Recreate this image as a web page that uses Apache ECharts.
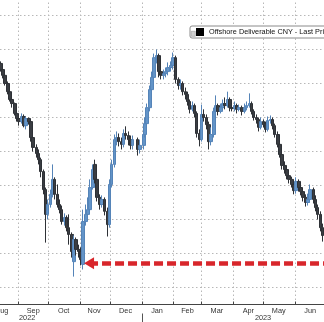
<!DOCTYPE html>
<html>
<head>
<meta charset="utf-8">
<script src="https://cdn.jsdelivr.net/npm/echarts@6/dist/echarts.min.js"></script>
<style>
html,body{margin:0;padding:0;background:#fff;}
#chart{width:324px;height:322px;}
</style>
</head>
<body>
<div id="chart"></div>
<script>
// ---- data (USD/CNH level, plotted on an inverted axis) ----
const seriesName = 'Offshore Deliverable CNY - Last Price';
const dates = [
'2022-08-15','2022-08-17','2022-08-19','2022-08-22','2022-08-24','2022-08-26','2022-08-29','2022-08-31','2022-09-02',
'2022-09-05','2022-09-07','2022-09-09','2022-09-12','2022-09-14','2022-09-16','2022-09-19','2022-09-21','2022-09-23',
'2022-09-26','2022-09-28','2022-09-30','2022-10-03','2022-10-05','2022-10-07','2022-10-10','2022-10-12','2022-10-14',
'2022-10-17','2022-10-19','2022-10-21','2022-10-24','2022-10-26','2022-10-28','2022-10-31','2022-11-02','2022-11-04',
'2022-11-07','2022-11-09','2022-11-11','2022-11-14','2022-11-16','2022-11-18','2022-11-21','2022-11-23','2022-11-25',
'2022-11-28','2022-11-30','2022-12-02','2022-12-05','2022-12-07','2022-12-09','2022-12-12','2022-12-14','2022-12-16',
'2022-12-19','2022-12-21','2022-12-23','2022-12-28','2022-12-30','2023-01-03','2023-01-04','2023-01-06',
'2023-01-09','2023-01-11','2023-01-13','2023-01-16','2023-01-18','2023-01-20','2023-01-23','2023-01-25','2023-01-27',
'2023-01-30','2023-02-01','2023-02-03','2023-02-06','2023-02-08','2023-02-10','2023-02-13','2023-02-15','2023-02-17',
'2023-02-20','2023-02-22','2023-02-24','2023-02-27','2023-03-01','2023-03-03','2023-03-06','2023-03-08','2023-03-10',
'2023-03-13','2023-03-15','2023-03-17','2023-03-20','2023-03-22','2023-03-24','2023-03-27','2023-03-29','2023-03-31',
'2023-04-03','2023-04-05','2023-04-07','2023-04-10','2023-04-12','2023-04-14','2023-04-17','2023-04-19','2023-04-21',
'2023-04-24','2023-04-26','2023-04-28','2023-05-01','2023-05-03','2023-05-05','2023-05-08','2023-05-10','2023-05-12',
'2023-05-15','2023-05-17','2023-05-19','2023-05-22','2023-05-24','2023-05-26','2023-05-29','2023-05-31','2023-06-02',
'2023-06-05','2023-06-07','2023-06-09','2023-06-12','2023-06-14','2023-06-16','2023-06-19','2023-06-21','2023-06-23',
'2023-06-26','2023-06-28'
];
const opens = [
6.741,6.759,6.776,6.800,6.824,6.847,6.859,6.888,6.903,
6.912,6.897,6.924,6.903,6.912,6.959,6.988,7.006,7.024,
7.059,7.112,7.185,7.156,7.126,7.082,7.126,7.156,7.171,
7.206,7.194,7.224,7.244,7.324,7.259,7.288,7.294,7.332,
7.206,7.185,7.171,7.106,7.038,7.082,7.135,7.156,7.141,
7.176,7.215,7.097,7.038,6.965,6.959,6.971,6.979,6.947,
6.953,6.965,6.982,6.965,6.994,6.982,6.950,6.918,
6.871,6.818,6.782,6.724,6.718,6.765,6.776,6.771,6.765,
6.753,6.747,6.724,6.788,6.806,6.800,6.824,6.832,6.853,
6.876,6.865,6.888,6.947,6.965,6.891,6.900,6.921,6.971,
6.950,6.882,6.865,6.882,6.871,6.859,6.865,6.847,6.871,
6.874,6.865,6.876,6.871,6.882,6.871,6.865,6.859,6.882,
6.900,6.906,6.929,6.912,6.921,6.935,6.909,6.906,6.924,
6.950,6.979,7.009,7.041,7.053,7.071,7.082,7.097,7.115,
7.088,7.106,7.118,7.135,7.150,7.141,7.112,7.141,7.165,
7.185,7.224
];
const closes = [
6.759,6.776,6.800,6.824,6.847,6.859,6.888,6.903,6.912,
6.897,6.924,6.903,6.912,6.959,6.988,7.006,7.024,7.059,
7.112,7.185,7.156,7.126,7.082,7.126,7.156,7.171,7.206,
7.194,7.224,7.244,7.294,7.259,7.288,7.294,7.318,7.206,
7.185,7.171,7.106,7.053,7.082,7.135,7.156,7.141,7.176,
7.215,7.097,7.038,6.965,6.959,6.971,6.979,6.947,6.953,
6.965,6.982,6.965,6.994,6.982,6.950,6.918,6.871,
6.818,6.782,6.724,6.718,6.765,6.776,6.771,6.765,6.753,
6.747,6.724,6.788,6.806,6.800,6.824,6.832,6.853,6.876,
6.865,6.888,6.947,6.965,6.891,6.900,6.921,6.971,6.950,
6.882,6.865,6.882,6.871,6.859,6.865,6.847,6.871,6.874,
6.865,6.876,6.871,6.882,6.871,6.865,6.859,6.882,6.900,
6.906,6.929,6.912,6.921,6.935,6.909,6.906,6.924,6.950,
6.979,7.009,7.041,7.053,7.071,7.082,7.097,7.115,7.088,
7.106,7.118,7.135,7.150,7.141,7.112,7.141,7.165,7.185,
7.224,7.247
];
const lows = [
6.735,6.753,6.771,6.794,6.818,6.835,6.856,6.882,6.894,
6.888,6.891,6.897,6.900,6.906,6.950,6.979,6.994,7.018,
7.053,7.106,7.141,7.112,7.038,7.076,7.097,7.141,7.159,
7.182,7.188,7.185,7.238,7.247,7.253,7.274,7.282,7.171,
7.156,7.135,7.082,7.038,7.024,7.076,7.126,7.129,7.135,
7.165,7.082,7.024,6.950,6.941,6.947,6.959,6.935,6.926,
6.941,6.953,6.953,6.959,6.965,6.929,6.900,6.859,
6.806,6.765,6.712,6.700,6.712,6.753,6.759,6.753,6.738,
6.735,6.709,6.718,6.782,6.788,6.794,6.812,6.824,6.847,
6.853,6.859,6.882,6.935,6.862,6.876,6.891,6.912,6.929,
6.871,6.835,6.859,6.859,6.847,6.841,6.824,6.841,6.859,
6.853,6.859,6.862,6.865,6.859,6.853,6.829,6.853,6.876,
6.891,6.900,6.900,6.906,6.912,6.897,6.894,6.900,6.918,
6.941,6.971,7.000,7.029,7.047,7.059,7.074,7.088,7.076,
7.082,7.094,7.112,7.126,7.124,7.097,7.106,7.129,7.156,
7.176,7.212
];
const highs = [
6.765,6.785,6.806,6.832,6.853,6.871,6.894,6.912,6.924,
6.918,6.929,6.935,6.921,6.971,7.000,7.018,7.038,7.076,
7.126,7.268,7.200,7.165,7.135,7.141,7.165,7.182,7.215,
7.218,7.235,7.274,7.312,7.368,7.306,7.312,7.335,7.347,
7.218,7.194,7.176,7.112,7.094,7.147,7.171,7.165,7.188,
7.250,7.224,7.106,7.047,6.982,6.985,6.994,6.988,6.965,
6.982,6.994,6.994,7.012,7.006,6.994,6.959,6.929,
6.882,6.829,6.794,6.741,6.782,6.788,6.788,6.782,6.776,
6.765,6.759,6.800,6.818,6.818,6.835,6.847,6.865,6.888,
6.882,6.900,6.959,6.985,6.971,6.912,6.935,6.994,6.982,
6.959,6.894,6.894,6.888,6.876,6.876,6.871,6.882,6.882,
6.882,6.888,6.882,6.894,6.888,6.879,6.871,6.891,6.909,
6.918,6.941,6.935,6.929,6.944,6.941,6.918,6.935,6.959,
6.988,7.018,7.053,7.065,7.082,7.094,7.106,7.126,7.124,
7.118,7.129,7.147,7.162,7.159,7.150,7.153,7.176,7.200,
7.235,7.265
];
// axis text
const monthNames = ['Jan','Feb','Mar','Apr','May','Jun','Jul','Aug','Sep','Oct','Nov','Dec'];
const monthStarts = ['2022-09-01','2022-10-01','2022-11-01','2022-12-01','2023-01-01','2023-02-01','2023-03-01','2023-04-01','2023-05-01','2023-06-01'];
const monthLabelDates = ['2022-08-16','2022-09-16','2022-10-16','2022-11-15','2022-12-16','2023-01-16','2023-02-15','2023-03-16','2023-04-16','2023-05-16','2023-06-16'];
const yearLabelDates = ['2022-09-10T00:00','2023-04-30T12:00'];
const yearBoundary = ['2023-01-01'];
// annotation: red dashed arrow at the autumn 2022 low
const arrowLevel = 7.329;
const arrowStart = '2022-11-10';

// ---- helpers ----
function ts(s){ return new Date(s.length > 10 ? s + ':00Z' : s + 'T00:00:00Z').getTime(); }
const xMin = Date.UTC(2022, 7, 14, 6);
const xMax = Date.UTC(2023, 5, 29, 14);
const FONT = 'Liberation Sans, Arial, sans-serif';

const candleData = dates.map((d, i) => [ts(d), opens[i], closes[i], lows[i], highs[i]]);

const chart = echarts.init(document.getElementById('chart'), null, {renderer: 'canvas'});
chart.setOption({
  animation: false,
  backgroundColor: '#fff',
  grid: {left: 0, right: 0, top: -1.5, height: 306, outerBoundsMode: 'none', containLabel: false},
  legend: {
    show: true,
    left: 190, top: 26,
    padding: [2, 40, 2, 6],
    itemWidth: 8, itemHeight: 8,
    backgroundColor: '#fff', borderColor: '#8a8a8a', borderWidth: 1, borderRadius: 2,
    textStyle: {fontSize: 7.3, color: '#111', fontFamily: FONT},
    data: [{name: seriesName, icon: 'rect', itemStyle: {color: '#000', borderWidth: 0}}],
    selectedMode: false
  },
  graphic: [{type: 'rect', z: 100, left: 191, top: 31, shape: {width: 4, height: 5}, style: {fill: '#d0d0d0', stroke: '#9a9a9a', lineWidth: 0.6}}],
  xAxis: [{
    type: 'value', min: xMin, max: xMax, position: 'bottom',
    axisLine: {show: true, onZero: false, lineStyle: {color: '#444', width: 1}},
    axisTick: {show: true, inside: true, length: 3, customValues: monthStarts.map(ts), lineStyle: {color: '#444'}},
    splitLine: {show: true, lineStyle: {color: '#b8b8b8', width: 1, type: [1.5, 2.5]}},
    axisLabel: {
      show: true, customValues: monthLabelDates.map(ts), margin: 3,
      fontSize: 7.3, color: '#333', fontFamily: FONT,
      formatter: v => monthNames[new Date(v).getUTCMonth()]
    }
  }, {
    type: 'value', min: xMin, max: xMax, position: 'bottom', offset: 9,
    axisLine: {show: false, onZero: false},
    axisTick: {show: true, length: 10, customValues: yearBoundary.map(ts), lineStyle: {color: '#555'}},
    splitLine: {show: false},
    axisLabel: {
      show: true, customValues: yearLabelDates.map(ts), margin: 1,
      fontSize: 7.3, color: '#333', fontFamily: FONT,
      formatter: v => String(new Date(v).getUTCFullYear())
    }
  }],
  yAxis: {
    type: 'value', inverse: true, min: 6.55, max: 7.45, interval: 0.05, position: 'right',
    axisLine: {show: false}, axisTick: {show: false}, axisLabel: {show: false},
    splitLine: {show: true, lineStyle: {color: ['rgba(0,0,0,0)', '#b8b8b8'], width: 1, type: [1.5, 2.5]}}
  },
  series: [{
    name: seriesName,
    type: 'candlestick',
    xAxisIndex: 0,
    barWidth: 3,
    encode: {x: 0, y: [1, 2, 3, 4]},
    data: candleData,
    itemStyle: {color: '#3a3d42', borderColor: '#2e3136', color0: '#6394c8', borderColor0: '#5584b8', borderWidth: 1},
    markLine: {
      silent: true,
      symbol: ['triangle', 'none'],
      symbolSize: [12, 10],
      label: {show: false},
      lineStyle: {color: '#d8262b', width: 4.5, type: [9, 4], opacity: 1},
      data: [[{coord: [ts(arrowStart), arrowLevel]}, {coord: [xMax, arrowLevel]}]]
    }
  }]
});
</script>
</body>
</html>
